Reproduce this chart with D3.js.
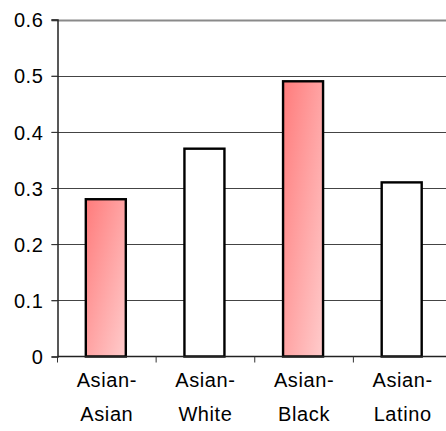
<!DOCTYPE html>
<html>
<head>
<meta charset="utf-8">
<script src="https://cdn.jsdelivr.net/npm/d3@7"></script>
<style>
  html, body { margin: 0; padding: 0; background: #fff; }
  svg { display: block; }
  text { font-family: "Liberation Sans", Arial, sans-serif; fill: #000; }
</style>
</head>
<body>
<svg id="chart" width="446" height="431"></svg>
<script>
// Pair categories, split into two label lines
const categories = ["Asian-Asian", "Asian-White", "Asian-Black", "Asian-Latino"];
const labelTop = ["Asian-", "Asian-", "Asian-", "Asian-"];
const labelBottom = ["Asian", "White", "Black", "Latino"];
const values = [0.28, 0.37, 0.49, 0.31];
const highlighted = [true, false, true, false];
const yTicks = [0, 0.1, 0.2, 0.3, 0.4, 0.5, 0.6];

const svg = d3.select("#chart");
const plotLeft = 57.5, plotRight = 452, plotTop = 19.5, plotBottom = 356.5;

const x = d3.scaleBand().domain(categories).range([plotLeft, plotRight]).paddingInner(0).paddingOuter(0);
const y = d3.scaleLinear().domain([0, 0.6]).range([plotBottom, plotTop]);

const defs = svg.append("defs");
const grad = defs.append("linearGradient")
  .attr("id", "barFill")
  .attr("x1", 0).attr("y1", 0).attr("x2", 1).attr("y2", 1);
grad.append("stop").attr("offset", "0%").attr("stop-color", "#ff7b7b");
grad.append("stop").attr("offset", "100%").attr("stop-color", "#ffcccc");

// Horizontal gridlines (the top one forms the plot's upper border)
svg.append("g")
  .selectAll("line")
  .data(yTicks.filter(d => d > 0))
  .join("line")
  .attr("x1", plotLeft - 6)
  .attr("x2", plotRight)
  .attr("y1", d => Math.round(y(d)) + 0.5)
  .attr("y2", d => Math.round(y(d)) + 0.5)
  .attr("stroke", d => d === 0.6 ? "#8a8a8a" : "#444")
  .attr("stroke-width", d => d === 0.6 ? 2 : 1);

// Y axis
const yAxis = d3.axisLeft(y).tickValues(yTicks).tickSize(6).tickPadding(8)
  .tickFormat(d => d === 0 ? "0" : d3.format(".1f")(d));
const gy = svg.append("g").attr("transform", `translate(${plotLeft},0)`).call(yAxis);
gy.select(".domain").attr("stroke", "#222").attr("stroke-width", 1.5);
gy.selectAll(".tick line").attr("stroke", "#333");
gy.selectAll(".tick text")
  .style("font-size", "20px")
  .style("letter-spacing", "0.6px")
  .attr("dy", "0.36em");

// Bars
svg.append("g")
  .selectAll("rect")
  .data(values)
  .join("rect")
  .attr("x", (d, i) => x(categories[i]) + x.bandwidth() / 2 - 21)
  .attr("width", 40)
  .attr("y", d => y(d))
  .attr("height", d => y(0) - y(d))
  .attr("fill", (d, i) => highlighted[i] ? "url(#barFill)" : "#fff")
  .attr("stroke", "#000")
  .attr("stroke-width", 2.4);

// X axis baseline with boundary ticks
const gx = svg.append("g");
gx.append("line")
  .attr("x1", plotLeft).attr("x2", plotRight)
  .attr("y1", plotBottom).attr("y2", plotBottom)
  .attr("stroke", "#222").attr("stroke-width", 1.5);
gx.selectAll("line.tick")
  .data(categories.concat(["end"]))
  .join("line")
  .attr("class", "tick")
  .attr("x1", (d, i) => plotLeft + i * x.step())
  .attr("x2", (d, i) => plotLeft + i * x.step())
  .attr("y1", plotBottom)
  .attr("y2", plotBottom + 6)
  .attr("stroke", "#333");

// Category labels
const lab = svg.append("g")
  .attr("text-anchor", "middle")
  .style("font-size", "20px")
  .style("letter-spacing", "0.6px");
lab.selectAll("text.l1")
  .data(categories)
  .join("text")
  .attr("class", "l1")
  .attr("x", d => x(d) + x.bandwidth() / 2)
  .attr("y", 387)
  .text((d, i) => labelTop[i]);
lab.selectAll("text.l2")
  .data(categories)
  .join("text")
  .attr("class", "l2")
  .attr("x", d => x(d) + x.bandwidth() / 2)
  .attr("y", 421)
  .text((d, i) => labelBottom[i]);
</script>
</body>
</html>
